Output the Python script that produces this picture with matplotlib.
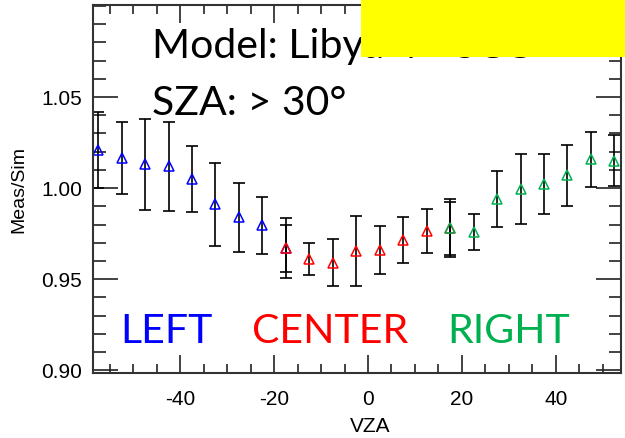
import matplotlib
matplotlib.use("Agg")
import matplotlib.pyplot as plt
from matplotlib.patches import Rectangle
from matplotlib.ticker import MultipleLocator

plt.rcParams["axes.unicode_minus"] = False

# view zenith angle bins and measured/simulated ratios
left_x = [-57.5, -52.5, -47.5, -42.5, -37.5, -32.5, -27.5, -22.5, -17.5]
left_y = [1.021, 1.0165, 1.013, 1.012, 1.005, 0.991, 0.984, 0.9795, 0.967]
left_err = [0.021, 0.020, 0.025, 0.0245, 0.018, 0.023, 0.019, 0.0155, 0.0165]

center_x = [-17.5, -12.5, -7.5, -2.5, 2.5, 7.5, 12.5, 17.5]
center_y = [0.967, 0.961, 0.959, 0.9655, 0.966, 0.9715, 0.9765, 0.978]
center_err = [0.013, 0.0087, 0.013, 0.019, 0.013, 0.0127, 0.012, 0.016]

right_x = [17.5, 22.5, 27.5, 32.5, 37.5, 42.5, 47.5, 52.5]
right_y = [0.978, 0.9758, 0.994, 0.9995, 1.0024, 1.0071, 1.0158, 1.015]
right_err = [0.0145, 0.0098, 0.0153, 0.019, 0.0165, 0.0167, 0.015, 0.014]

W, H = 625, 438
fig = plt.figure(figsize=(W / 100, H / 100), dpi=100)
ax = fig.add_axes([93 / W, 1 - 373 / H, (621 - 93) / W, (373 - 5) / H])

groups = [(left_x, left_y, left_err, "#0000FF"),
          (center_x, center_y, center_err, "#FF0000"),
          (right_x, right_y, right_err, "#00B050")]
for xs, ys, es, col in groups:
    ax.errorbar(xs, ys, yerr=es, fmt="none", ecolor="black",
                elinewidth=1.2, capsize=4.5, capthick=1.2)
    ax.plot(xs, ys, "^", mfc="none", mec=col, ms=6.5, mew=1.1)

ax.set_xlim(-58.6, 53.9)
ax.set_ylim(0.8985, 1.1005)
ax.set_xticks([-40, -20, 0, 20, 40])
ax.xaxis.set_minor_locator(MultipleLocator(5))
ax.set_yticks([0.90, 0.95, 1.00, 1.05])
ax.set_yticklabels(["0.90", "0.95", "1.00", "1.05"])
ax.yaxis.set_minor_locator(MultipleLocator(0.01))

ax.tick_params(which="both", direction="in", top=True, right=True,
               width=1.2, color="#222222", labelsize=15)
ax.tick_params(axis="x", which="major", length=13, pad=12)
ax.tick_params(axis="x", which="minor", length=6.5)
ax.tick_params(axis="y", which="major", length=18, pad=8)
ax.tick_params(axis="y", which="minor", length=9)
for lab in ax.get_xticklabels() + ax.get_yticklabels():
    lab.set_family("Liberation Sans")
for s in ax.spines.values():
    s.set_linewidth(1.5)
    s.set_color("#333333")

ax.set_xlabel("VZA", fontsize=15, family="Liberation Sans")
ax.set_ylabel("Meas/Sim", fontsize=14, family="Liberation Sans")
ax.xaxis.set_label_coords(0.525, -0.12)
ax.yaxis.set_label_coords(-0.125, 0.5)

big = dict(fontsize=29.5, family="Lato", va="baseline")
fig.text(152 / W, 1 - 58 / H, "Model: Libya 4 - SCC", **big)
fig.text(152 / W, 1 - 115 / H, "SZA: > 30°", **big)
fig.text(120 / W, 1 - 343 / H, "LEFT", color="#0000FF", **big)
fig.text(252 / W, 1 - 343 / H, "CENTER", color="#FF0000", **big)
fig.text(447 / W, 1 - 343 / H, "RIGHT", color="#00B050", **big)

fig.patches.append(Rectangle((361 / W, 1 - 57 / H), (W - 361) / W, 57 / H,
                             transform=fig.transFigure, facecolor="#FFFF00",
                             edgecolor="none", zorder=10))

fig.savefig("out.png", dpi=100)
